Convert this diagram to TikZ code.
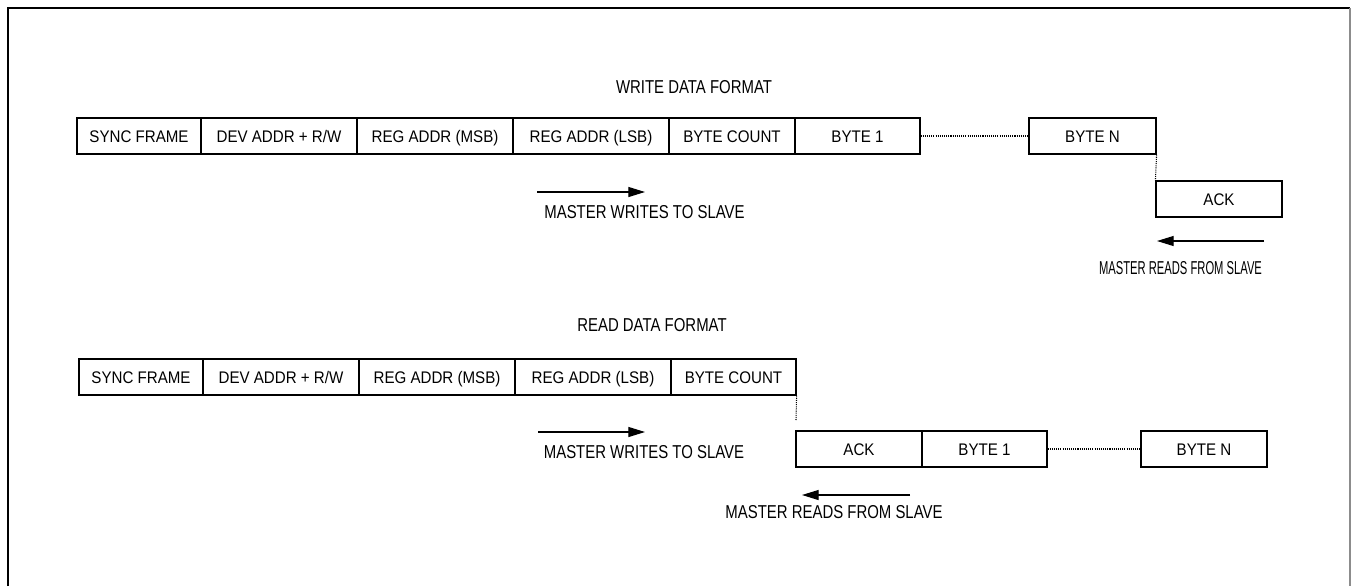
\documentclass[tikz,border=0pt]{standalone}
\usepackage{fontspec}
\setmainfont{Liberation Sans}
\newfontfamily\boxfont[FakeStretch=0.9]{Liberation Sans}
\newfontfamily\labfont[FakeStretch=0.8]{Liberation Sans}
\newfontfamily\narrowlabfont[FakeStretch=0.6]{Liberation Sans}
\usetikzlibrary{arrows.meta}
\begin{document}
\begin{tikzpicture}[x=0.75pt,y=-0.75pt,
 bx/.style={draw, line width=0.9pt, minimum width=#1*0.75pt, minimum height=27pt, inner sep=0pt, font=\boxfont\fontsize{12.6}{14}\selectfont, text height=9pt, text depth=0pt},
 lab/.style={inner sep=0pt, font=\labfont\fontsize{14}{16}\selectfont, text height=10pt, text depth=0pt},
 narrowlab/.style={lab, font=\narrowlabfont\fontsize{14}{16}\selectfont},
 dotline/.style={line width=0.8pt, dash pattern=on 0.8pt off 0.8pt},
 arr/.style={line width=0.9pt, -{Triangle[length=12.5pt,width=7.5pt]}}]
\useasboundingbox (0,0) rectangle (1351,586);
\draw[line width=1.2pt] (8,586) -- (8,8) -- (1350,8);
\draw[line width=1.2pt, black!45] (1350,8) -- (1350,586);

% Write data format
\node[lab] (wtitle) at (694,87) {WRITE DATA FORMAT};
\node[bx=124] (sf)  at (139,136)   {SYNC FRAME};
\node[bx=156] (dev) at (279,136)   {DEV ADDR + R/W};
\node[bx=156] (msb) at (435,136)   {REG ADDR (MSB)};
\node[bx=156] (lsb) at (591,136)   {REG ADDR (LSB)};
\node[bx=126] (bc)  at (732,136)   {BYTE COUNT};
\node[bx=125] (b1)  at (857.5,136) {BYTE 1};
\node[bx=127] (bn)  at (1092.5,136){BYTE N};
\node[bx=126] (ack) at (1219,199)  {ACK};
\draw[dotline] (b1.east) -- (bn.west);
\draw[dotline] (bn.south east) -- (ack.north west);

\coordinate (wa1) at (537,192);
\coordinate (wa2) at (645,192);
\draw[arr] (wa1) -- (wa2);
\node[lab] (wlab) at (644.5,212) {MASTER WRITES TO SLAVE};
\coordinate (ra1) at (1264,241);
\coordinate (ra2) at (1157,241);
\draw[arr] (ra1) -- (ra2);
\node[narrowlab] (rlab) at (1180.5,268) {MASTER READS FROM SLAVE};

% Read data format
\node[lab] (rtitle) at (652,325) {READ DATA FORMAT};
\node[bx=124] (sf2)  at (141,377)   {SYNC FRAME};
\node[bx=156] (dev2) at (281,377)   {DEV ADDR + R/W};
\node[bx=156] (msb2) at (437,377)   {REG ADDR (MSB)};
\node[bx=156] (lsb2) at (593,377)   {REG ADDR (LSB)};
\node[bx=125] (bc2)  at (733.5,377) {BYTE COUNT};
\node[bx=126] (ack2) at (859,449)   {ACK};
\node[bx=125] (b12)  at (984.5,449) {BYTE 1};
\node[bx=126] (bn2)  at (1204,449)  {BYTE N};
\coordinate (dv) at (796,420);
\draw[dotline] (bc2.south east) -- (dv);
\draw[dotline] (b12.east) -- (bn2.west);

\coordinate (wb1) at (538,432);
\coordinate (wb2) at (645,432);
\draw[arr] (wb1) -- (wb2);
\node[lab] (wlab2) at (644,452) {MASTER WRITES TO SLAVE};
\coordinate (rb1) at (910,495);
\coordinate (rb2) at (802,495);
\draw[arr] (rb1) -- (rb2);
\node[lab] (rlab2) at (834,512) {MASTER READS FROM SLAVE};
\end{tikzpicture}
\end{document}
